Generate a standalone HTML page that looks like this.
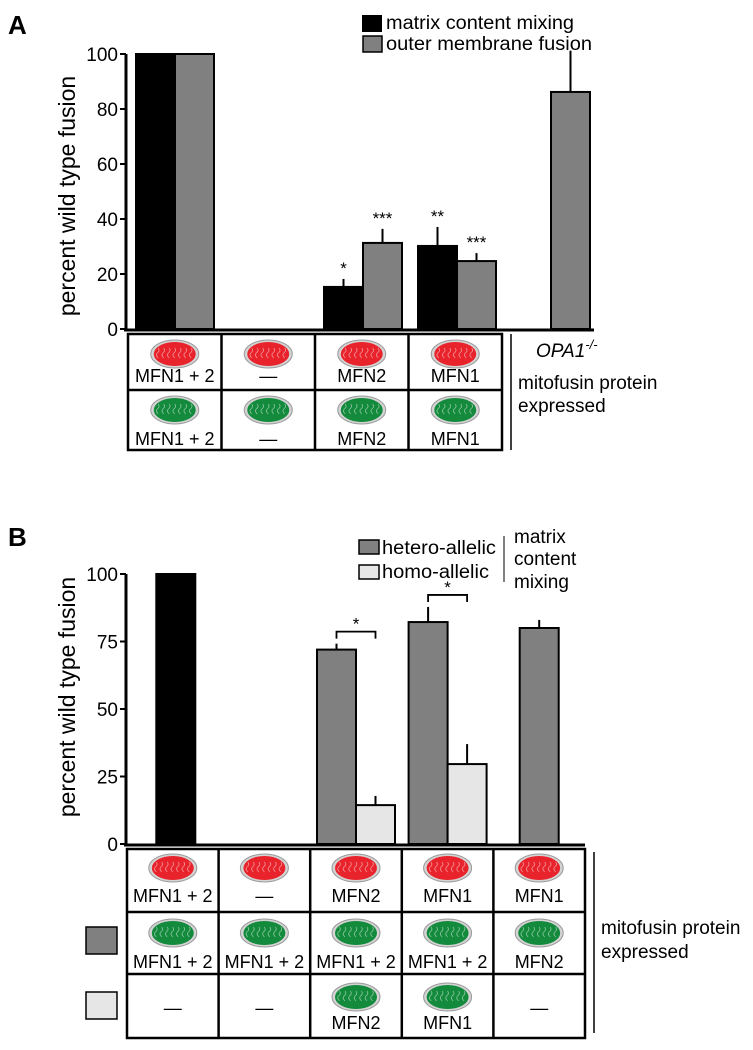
<!DOCTYPE html>
<html><head><meta charset="utf-8"><style>
html,body{margin:0;padding:0;background:#fff;}
svg{display:block;font-family:"Liberation Sans",Arial,sans-serif;}
</style></head><body>
<svg id="fig" width="753" height="1050" viewBox="0 0 753 1050" xmlns="http://www.w3.org/2000/svg">
<text x="8" y="34" font-size="26" font-weight="bold">A</text>
<text x="8" y="546" font-size="26" font-weight="bold">B</text>

<g>
<rect x="362" y="15" width="20" height="17" fill="#000"/>
<text x="386" y="29" font-size="19" textLength="188" lengthAdjust="spacingAndGlyphs">matrix content mixing</text>
<rect x="363" y="36" width="19" height="16" fill="#808080" stroke="#000" stroke-width="1.5"/>
<text x="386" y="50" font-size="19" textLength="206" lengthAdjust="spacingAndGlyphs">outer membrane fusion</text>
</g>

<g>
<rect x="359" y="540" width="20" height="14" fill="#808080" stroke="#000" stroke-width="1.5"/>
<text x="382" y="554" font-size="19" textLength="114" lengthAdjust="spacingAndGlyphs">hetero-allelic</text>
<rect x="359" y="565" width="20" height="14" fill="#e6e6e6" stroke="#000" stroke-width="1.5"/>
<text x="382" y="578" font-size="19" textLength="107" lengthAdjust="spacingAndGlyphs">homo-allelic</text>
<line x1="504" y1="536" x2="504" y2="582" stroke="#000" stroke-width="1"/>
<text x="514" y="543" font-size="19">matrix</text>
<text x="514" y="565" font-size="19">content</text>
<text x="514" y="588" font-size="19">mixing</text>
</g>

<text transform="translate(75,196) rotate(-90)" text-anchor="middle" font-size="23">percent wild type fusion</text>
<text transform="translate(75,697) rotate(-90)" text-anchor="middle" font-size="23">percent wild type fusion</text>

<text x="536" y="357" font-size="19" font-style="italic">OPA1<tspan font-size="13" dy="-8">-/-</tspan></text>
<text x="518" y="389" font-size="19">mitofusin protein</text>
<text x="518" y="412" font-size="19">expressed</text>
<line x1="511" y1="334" x2="511" y2="450" stroke="#000" stroke-width="1.5"/>
<text x="601" y="934" font-size="19">mitofusin protein</text>
<text x="601" y="958" font-size="19">expressed</text>
<line x1="594" y1="852" x2="594" y2="1033" stroke="#000" stroke-width="1.5"/>
<rect x="86" y="927" width="31" height="27" fill="#808080" stroke="#000" stroke-width="1.5"/>
<rect x="86" y="992" width="31" height="27" fill="#e6e6e6" stroke="#000" stroke-width="1.5"/>
</svg>
<script>
// ---- Panel A data ----
const catsA = ["MFN1 + 2", "none", "MFN2", "MFN1", "OPA1-/-"];
const matrixA = [100, null, 15.3, 30.2, null];
const matrixErrA = [0, null, 2.9, 6.9, null];
const outerA = [100, null, 31.3, 24.7, 86.2];
const outerErrA = [0, null, 5.1, 2.9, 15];
const starsMatrixA = ["", "", "*", "**", ""];
const starsOuterA = ["", "", "***", "***", ""];
const ticksA = [0, 20, 40, 60, 80, 100];
const tableA1 = ["MFN1 + 2", "\u2014", "MFN2", "MFN1"];
const tableA2 = ["MFN1 + 2", "\u2014", "MFN2", "MFN1"];

// ---- Panel B data ----
const catsB = ["WT", "none", "MFN2", "MFN1", "MFN1/MFN2"];
const wtB = [100, null, null, null, null];
const heteroB = [null, null, 72, 82.2, 80];
const heteroErrB = [null, null, 2.2, 5.6, 3];
const homoB = [null, null, 14.4, 29.6, null];
const homoErrB = [null, null, 3.4, 7.4, null];
const sigB = ["", "", "*", "*", ""];
const ticksB = [0, 25, 50, 75, 100];
const tableB1 = ["MFN1 + 2", "\u2014", "MFN2", "MFN1", "MFN1"];
const tableB2 = ["MFN1 + 2", "MFN1 + 2", "MFN1 + 2", "MFN1 + 2", "MFN2"];
const tableB3 = ["\u2014", "\u2014", "MFN2", "MFN1", "\u2014"];

const svg = document.getElementById('fig');
const NS = "http://www.w3.org/2000/svg";
function mk(tag, attrs, parent) {
  const e = document.createElementNS(NS, tag);
  for (const k in attrs) e.setAttribute(k, attrs[k]);
  (parent || svg).appendChild(e);
  return e;
}
const yA = v => 329 - v * 2.75;
const xA = i => 128 + 47 + 94 * i;
const yB = v => 844 - v * 2.7;
const xB = i => 127 + 45.8 + 91.6 * i;
const BW = 39;

function bar(x, y0, y1, fill, name) {
  const r = mk('rect', {x: x, y: y1, width: BW, height: y0 - y1, fill: fill, stroke: '#000', 'stroke-width': 2});
  
  
}
function err(x, y1, y2, name) {
  const l = mk('line', {x1: x, y1: y1, x2: x, y2: y2, stroke: '#000', 'stroke-width': 2});
  
  
}
function txt(x, y, s, size, name, anchor) {
  const t = mk('text', {x: x, y: y, 'font-size': size, 'text-anchor': anchor || 'middle'});
  t.textContent = s;
  
  
  return t;
}
function mito(cx, cy, color, name) {
  const g = mk('g', {});
  
  
  mk('ellipse', {cx: cx, cy: cy, rx: 24, ry: 14, fill: '#d4d4d4', stroke: '#9a9a9a', 'stroke-width': 1}, g);
  mk('ellipse', {cx: cx, cy: cy, rx: 21, ry: 12, fill: color}, g);
  for (let k = -3; k <= 3; k++) {
    const x = cx + k * 5.5;
    mk('path', {d: `M${x} ${cy - 6} q2 3 -1 5 q-2 2 1 5`, stroke: '#fff', 'stroke-width': 0.8, fill: 'none', opacity: 0.5}, g);
  }
}

// ---- Panel A axes ----
const axA = mk('line', {x1: 126, y1: 54, x2: 126, y2: 330, stroke: '#000', 'stroke-width': 3});


const xaxA = mk('line', {x1: 124, y1: 330, x2: 594, y2: 330, stroke: '#000', 'stroke-width': 3});


ticksA.forEach(t => {
  const l = mk('line', {x1: 120, y1: yA(t), x2: 126, y2: yA(t), stroke: '#000', 'stroke-width': 2});
  
  
  txt(118, yA(t) + 7, String(t), 19, 'y-tick-label-a', 'end');
});
catsA.forEach((c, i) => {
  const cx = xA(i);
  if (matrixA[i] != null) {
    bar(cx - BW, yA(0), yA(matrixA[i]), '#000', 'bar-matrix-' + i);
    if (matrixErrA[i]) err(cx - BW / 2, yA(matrixA[i]), yA(matrixA[i] + matrixErrA[i]), 'error-matrix-' + i);
    if (starsMatrixA[i]) txt(cx - BW / 2, yA(matrixA[i] + matrixErrA[i]) - 5, starsMatrixA[i], 17, 'sig-matrix-' + i);
  }
  if (outerA[i] != null) {
    bar(cx, yA(0), yA(outerA[i]), '#808080', 'bar-outer-' + i);
    if (outerErrA[i]) err(cx + BW / 2, yA(outerA[i]), yA(outerA[i] + outerErrA[i]), 'error-outer-' + i);
    if (starsOuterA[i]) txt(cx + BW / 2, yA(outerA[i] + outerErrA[i]) - 5, starsOuterA[i], 17, 'sig-outer-' + i);
  }
});
const tA = mk('rect', {x: 128, y: 334, width: 374, height: 116, fill: 'none', stroke: '#000', 'stroke-width': 2.5});


mk('line', {x1: 128, y1: 390, x2: 502, y2: 390, stroke: '#000', 'stroke-width': 2.5});
[1, 2, 3].forEach(i => mk('line', {x1: 128 + 93.5 * i, y1: 334, x2: 128 + 93.5 * i, y2: 450, stroke: '#000', 'stroke-width': 2.5}));
tableA1.forEach((s, i) => {
  const cx = 128 + 46.75 + 93.5 * i;
  mito(cx, 354, '#e8232b', 'mito-red-a-' + i);
  txt(cx, 382, s, 18, 'table-a-row1-' + i);
  mito(cx, 410, '#138a3c', 'mito-green-a-' + i);
  txt(cx, 445, tableA2[i], 18, 'table-a-row2-' + i);
});

// ---- Panel B axes ----
const axB = mk('line', {x1: 126, y1: 574, x2: 126, y2: 845, stroke: '#000', 'stroke-width': 3});


const xaxB = mk('line', {x1: 124, y1: 845, x2: 585, y2: 845, stroke: '#000', 'stroke-width': 3});


ticksB.forEach(t => {
  const l = mk('line', {x1: 120, y1: yB(t), x2: 126, y2: yB(t), stroke: '#000', 'stroke-width': 2});
  
  
  txt(118, yB(t) + 7, String(t), 19, 'y-tick-label-b', 'end');
});
catsB.forEach((c, i) => {
  const cx = xB(i);
  if (wtB[i] != null) bar(cx - BW / 2 + 3, yB(0), yB(wtB[i]), '#000', 'bar-wt-' + i);
  const pair = homoB[i] != null;
  if (heteroB[i] != null) {
    const x0 = pair ? cx - BW : cx - BW / 2;
    bar(x0, yB(0), yB(heteroB[i]), '#808080', 'bar-hetero-' + i);
    err(x0 + BW / 2, yB(heteroB[i]), yB(heteroB[i] + heteroErrB[i]), 'error-hetero-' + i);
  }
  if (pair) {
    bar(cx, yB(0), yB(homoB[i]), '#e6e6e6', 'bar-homo-' + i);
    err(cx + BW / 2, yB(homoB[i]), yB(homoB[i] + homoErrB[i]), 'error-homo-' + i);
  }
  if (sigB[i]) {
    const top = yB(heteroB[i] + heteroErrB[i]) - 12;
    const p = mk('path', {d: `M${cx - BW / 2} ${top + 7} V${top} H${cx + BW / 2} V${top + 7}`, fill: 'none', stroke: '#000', 'stroke-width': 1.8});
    
    
    txt(cx, top - 2, sigB[i], 17, 'sig-star-' + i);
  }
});
const tB = mk('rect', {x: 127, y: 849, width: 458, height: 189, fill: 'none', stroke: '#000', 'stroke-width': 2.5});


mk('line', {x1: 127, y1: 912, x2: 585, y2: 912, stroke: '#000', 'stroke-width': 2.5});
mk('line', {x1: 127, y1: 974, x2: 585, y2: 974, stroke: '#000', 'stroke-width': 2.5});
[1, 2, 3, 4].forEach(i => mk('line', {x1: 127 + 91.6 * i, y1: 849, x2: 127 + 91.6 * i, y2: 1038, stroke: '#000', 'stroke-width': 2.5}));
tableB1.forEach((s, i) => {
  const cx = xB(i);
  mito(cx, 868, '#e8232b', 'mito-red-b-' + i);
  txt(cx, 902, s, 18, 'table-b-row1-' + i);
  mito(cx, 933, '#138a3c', 'mito-green-b-' + i);
  txt(cx, 968, tableB2[i], 18, 'table-b-row2-' + i);
  if (tableB3[i] === "\u2014") {
    txt(cx, 1014, tableB3[i], 18, 'table-b-row3-' + i);
  } else {
    mito(cx, 997, '#138a3c', 'mito-green-b3-' + i);
    txt(cx, 1029, tableB3[i], 18, 'table-b-row3-' + i);
  }
});
</script>
</body></html>
